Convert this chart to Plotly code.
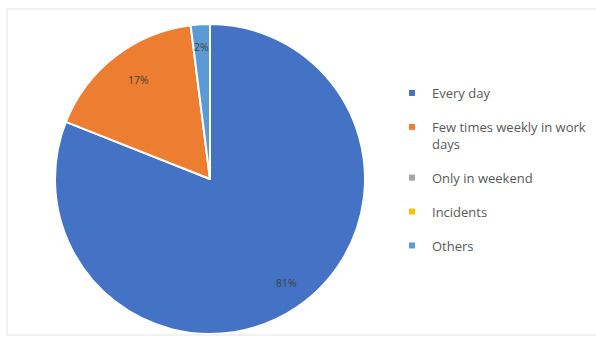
import math
import plotly.graph_objects as go

# Share of respondents by frequency
categories = ["Every day", "Few times weekly in work days", "Only in weekend", "Incidents", "Others"]
legend_labels = ["Every day", "Few times weekly in work<br>days", "Only in weekend", "Incidents", "Others"]
shares = [81, 17, 2, 0, 0]
colors = ["#4472C4", "#ED7D31", "#A5A5A5", "#FFC000", "#5B9BD5"]
slice_colors = ["#4472C4", "#ED7D31", "#5B9BD5", "#FFC000", "#5B9BD5"]

W, H = 596, 341
cx_px, cy_px, R = 210, 179, 155  # pie centre (from top-left) and radius in pixels

dom_x = [(cx_px - R) / W, (cx_px + R) / W]
dom_y = [(H - cy_px - R) / H, (H - cy_px + R) / H]

fig = go.Figure()
fig.add_trace(go.Pie(
    labels=categories,
    values=shares,
    sort=False,
    direction="clockwise",
    rotation=0,
    marker=dict(colors=slice_colors, line=dict(color="white", width=2)),
    textinfo="none",
    hoverinfo="label+percent",
    showlegend=False,
    domain=dict(x=dom_x, y=dom_y),
))

# Legend entries, one group per category so they can be spaced out
for lab, col in zip(legend_labels, colors):
    fig.add_trace(go.Scatter(
        x=[None], y=[None], mode="markers", name=lab, legendgroup=lab,
        marker=dict(symbol="square", size=6, color=col),
        hoverinfo="skip",
    ))

# Percentage labels near the outer edge of each slice
total = sum(shares)
start = 0.0
cx = (dom_x[0] + dom_x[1]) / 2
cy = (dom_y[0] + dom_y[1]) / 2
for v in shares:
    ang = start + 360 * v / total / 2
    start += 360 * v / total
    if v <= 0:
        continue
    k = 0.88 if v > 5 else 0.91
    t = math.radians(ang)
    fig.add_annotation(
        x=cx + k * R * math.sin(t) / W,
        y=cy + k * R * math.cos(t) / H,
        xref="paper", yref="paper", showarrow=False,
        text=f"{round(v / total * 100)}%",
        font=dict(family="Open Sans", size=10.5, color="#404040"),
    )

fig.add_shape(type="rect", xref="paper", yref="paper",
              x0=7 / W, x1=1.02, y0=(H - 335) / H, y1=(H - 9) / H,
              line=dict(color="#E3E3E3", width=1), fillcolor="rgba(0,0,0,0)")

fig.update_layout(
    width=W, height=H,
    margin=dict(l=0, r=0, t=0, b=0),
    paper_bgcolor="white", plot_bgcolor="white",
    xaxis=dict(visible=False), yaxis=dict(visible=False),
    showlegend=True,
    legend=dict(
        x=392 / W, y=(H - 78) / H, xanchor="left", yanchor="top",
        font=dict(family="Open Sans", size=13, color="#595959"),
        valign="top", tracegroupgap=14, itemwidth=30,
        bgcolor="rgba(0,0,0,0)",
    ),
)

fig.write_html("out.html")
